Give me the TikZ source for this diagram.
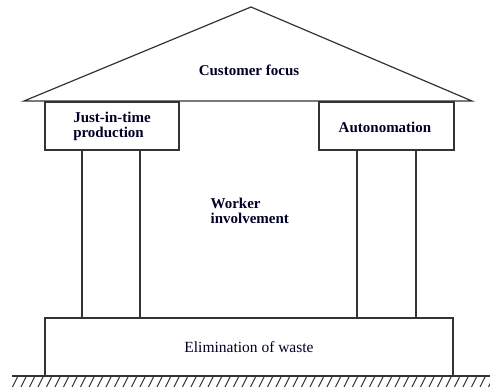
\documentclass[tikz,border=0pt]{standalone}
\usepackage{fontspec}
\setmainfont{Liberation Serif}
\usepackage{tikz}

\tikzset{
  part/.style={draw=black!80, line width=1.2pt, fill=white, inner sep=0pt},
  label/.style={text=black!85!blue, font=\bfseries\fontsize{15}{15}\selectfont, align=left, inner sep=0pt}
}

\begin{document}
\begin{tikzpicture}[x=1pt, y=-1pt, line width=1.2pt]
  \useasboundingbox (0,0) rectangle (490,387);

  % roof
  \coordinate (apex) at (251,7);
  \coordinate (eaveL) at (24,101);
  \coordinate (eaveR) at (472,101);
  \draw[draw=black!80, line join=miter] (eaveL) -- (apex) -- (eaveR) -- cycle;
  \node[label] (focus) at (249,70) {Customer focus};

  % pillars
  \node[part, minimum width=58pt, minimum height=168pt] (colL) at (111,234) {};
  \node[part, minimum width=59pt, minimum height=168pt] (colR) at (386.5,234) {};
  \node[part, minimum width=134pt, minimum height=48pt] (capL) at (112,126) {};
  \node[part, minimum width=135pt, minimum height=48pt] (capR) at (386.5,126) {};
  \node[label] (jit) at (capL) {Just-in-time\\production};
  \node[label] (auto) at (385,127) {Autonomation};

  \node[label, anchor=west] (worker) at (210,211) {Worker\\involvement};

  % base
  \node[part, minimum width=408pt, minimum height=58pt] (base) at (249,347) {};
  \node[label, font=\fontsize{15.5}{15.5}\selectfont] (waste) at (base) {Elimination of waste};

  % ground
  \coordinate (groundL) at (12,376);
  \coordinate (groundR) at (490,376);
  \draw[draw=black!80] (groundL) -- (groundR);
  \begin{scope}
    \clip (12,376) rectangle (490,387);
    \foreach \x in {0,8.5,...,500}
      \draw[draw=black!80, line width=1pt] (\x+12,388) -- (\x+18,376);
  \end{scope}
\end{tikzpicture}
\end{document}
